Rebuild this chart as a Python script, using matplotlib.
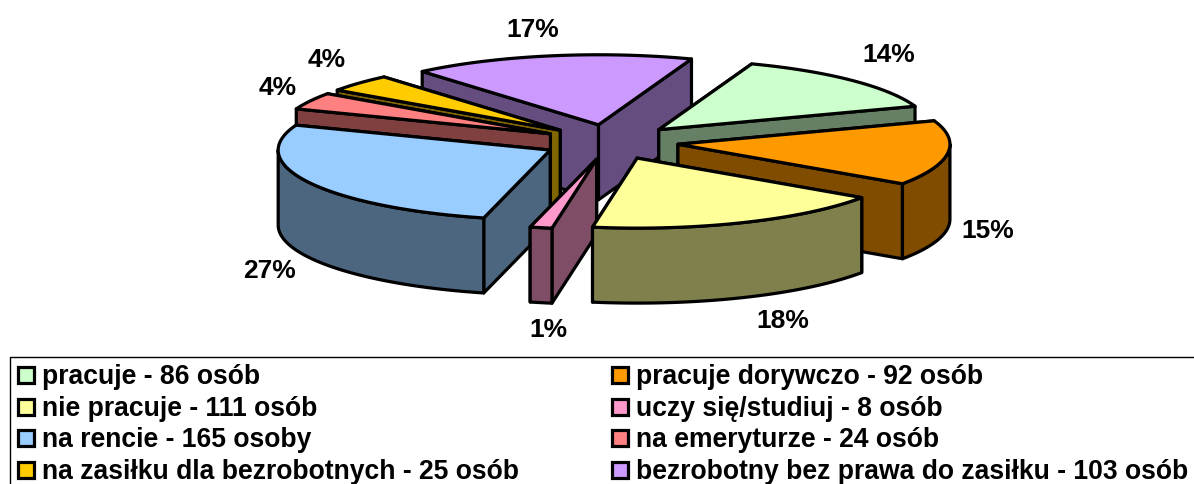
import numpy as np
import matplotlib
matplotlib.use('Agg')
import matplotlib.pyplot as plt
from matplotlib.patches import Polygon, Rectangle

plt.rcParams['font.family'] = ['Liberation Sans', 'DejaVu Sans']

counts = [86, 92, 111, 8, 165, 24, 25, 103]
percents = ['14%', '15%', '18%', '1%', '27%', '4%', '4%', '17%']
legend_labels = ['pracuje - 86 osób', 'pracuje dorywczo - 92 osób',
                 'nie pracuje - 111 osób', 'uczy się/studiuj - 8 osób',
                 'na rencie - 165 osoby', 'na emeryturze - 24 osób',
                 'na zasiłku dla bezrobotnych - 25 osób',
                 'bezrobotny bez prawa do zasiłku - 103 osób']
colors = ['#CCFFCC', '#FF9900', '#FFFF99', '#FF99CC',
          '#99CCFF', '#FF8080', '#FFCC00', '#CC99FF']
dark = ['#668066', '#804D00', '#80804D', '#804D66',
        '#4D6680', '#804040', '#806600', '#664D80']
label_pos = [(889, 55), (988, 231), (783, 321), (548, 330),
             (269, 271), (278, 88), (327, 60), (533, 30)]
legend_rows = [376, 408, 439, 471]
legend_cols = [18, 612]

# pie geometry in pixels
cx, cy = 610.5, 142
rx, ry = 272, 70
depth = 75
explode = 0.25
start = 20.0


def point(a, ox, oy):
    t = np.radians(a)
    return ox + rx * np.sin(t), oy - ry * np.cos(t)


def draw_slice(ax, a0, a1, face, side):
    mid = (a0 + a1) / 2
    ox = cx + explode * rx * np.sin(np.radians(mid))
    oy = cy - explode * ry * np.cos(np.radians(mid))
    style = dict(edgecolor='black', linewidth=2.3, joinstyle='round')
    # radial walls, the one further back goes first
    walls = sorted([a0, a1], key=lambda a: point(a, ox, oy)[1])
    for a in walls:
        px, py = point(a, ox, oy)
        ax.add_patch(Polygon([(ox, oy), (px, py), (px, py + depth), (ox, oy + depth)],
                             facecolor=side, **style))
    # outer rim, only the front half of the ellipse shows
    lo, hi = max(a0, 90), min(a1, 270)
    if hi > lo:
        arc = np.linspace(lo, hi, 80)
        x, y = point(arc, ox, oy)
        pts = np.r_[np.c_[x, y], np.c_[x[::-1], y[::-1] + depth]]
        ax.add_patch(Polygon(pts, facecolor=side, **style))
    arc = np.linspace(a0, a1, 120)
    x, y = point(arc, ox, oy)
    pts = np.r_[[(ox, oy)], np.c_[x, y]]
    ax.add_patch(Polygon(pts, facecolor=face, **style))


def main():
    fig = plt.figure(figsize=(11.94, 4.84), dpi=100)
    ax = fig.add_axes([0, 0, 1, 1])
    ax.set_xlim(0, 1194)
    ax.set_ylim(484, 0)
    ax.axis('off')

    sweep = np.array(counts) / sum(counts) * 360
    ends = start + np.cumsum(sweep)
    starts = ends - sweep
    # back to front
    order = [7, 6, 5, 0, 1, 4, 3, 2]
    for i in order:
        draw_slice(ax, starts[i], ends[i], colors[i], dark[i])

    for txt, (x, y) in zip(percents, label_pos):
        ax.text(x, y, txt, fontsize=19, fontweight='bold', ha='center', va='center')

    ax.plot([1194, 9.5, 9.5], [356.5, 356.5, 484], color='black', lw=1, clip_on=False)
    for n, txt in enumerate(legend_labels):
        x = legend_cols[n % 2]
        y = legend_rows[n // 2]
        ax.add_patch(Rectangle((x, y - 9), 16, 16, facecolor=colors[n],
                               edgecolor='black', linewidth=2.3))
        ax.text(x + 24, y + 1, txt, fontsize=19.1, fontweight='bold', ha='left', va='center')

    fig.savefig('out.png', dpi=100)


if __name__ == '__main__':
    main()
